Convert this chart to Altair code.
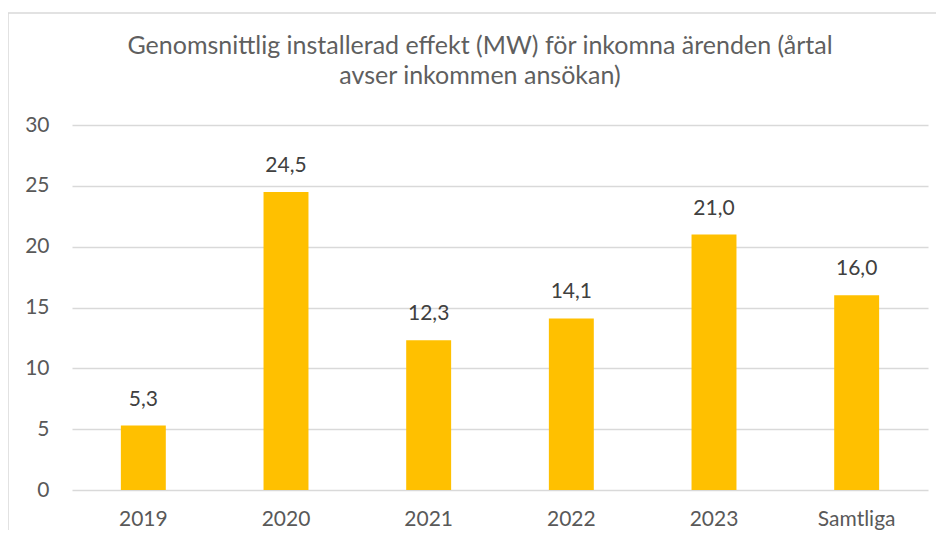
import altair as alt
import pandas as pd

categories = ["2019", "2020", "2021", "2022", "2023", "Samtliga"]
values = [5.3, 24.5, 12.3, 14.1, 21.0, 16.0]

df = pd.DataFrame({
    "kategori": categories,
    "varde": values,
    "etikett": [f"{v:.1f}".replace(".", ",") for v in values],
})

FONT = "Lato"
GREY = "#595959"

x_enc = alt.X("kategori:N", sort=categories, title=None,
              scale=alt.Scale(paddingInner=0.685, paddingOuter=0.3425),
              axis=alt.Axis(labelAngle=0, labelFontSize=21, labelColor=GREY, labelFont=FONT,
                            ticks=False, domain=False, labelPadding=18))
y_enc = alt.Y("varde:Q", title=None,
              scale=alt.Scale(domain=[0, 30], nice=False),
              axis=alt.Axis(values=[0, 5, 10, 15, 20, 25, 30], labelFontSize=21, labelColor=GREY,
                            labelFont=FONT, ticks=False, domain=False, labelPadding=23,
                            gridColor="#d9d9d9", gridWidth=1.3))

bars = alt.Chart(df).mark_bar(color="#FFC000").encode(x=x_enc, y=y_enc)
labels = alt.Chart(df).mark_text(dy=-20, fontSize=21, font=FONT, color="#404040", baseline="alphabetic").encode(
    x=alt.X("kategori:N", sort=categories), y="varde:Q", text="etikett:N")

frame = alt.Chart(pd.DataFrame({"a": [0]})).mark_rect(fill=None, stroke="#d9d9d9", strokeWidth=1.5).encode(
    x=alt.value(-64), x2=alt.value(1000), y=alt.value(-112), y2=alt.value(450))

chart = alt.layer(frame, bars, labels).properties(
    width=856, height=365,
    autosize=alt.AutoSizeParams(type="none"),
    padding={"left": 64, "top": 117, "right": 8, "bottom": 40},
    title=alt.TitleParams(
        ["Genomsnittlig installerad effekt (MW) för inkomna ärenden (årtal", "avser inkommen ansökan)"],
        fontSize=25, font=FONT, fontWeight="normal", color="#5f5f5f", anchor="middle", dx=-20,
        lineHeight=30, offset=-77),
).configure_view(stroke=None)

chart.save("out.html", embed_options={"renderer": "svg", "actions": False})
